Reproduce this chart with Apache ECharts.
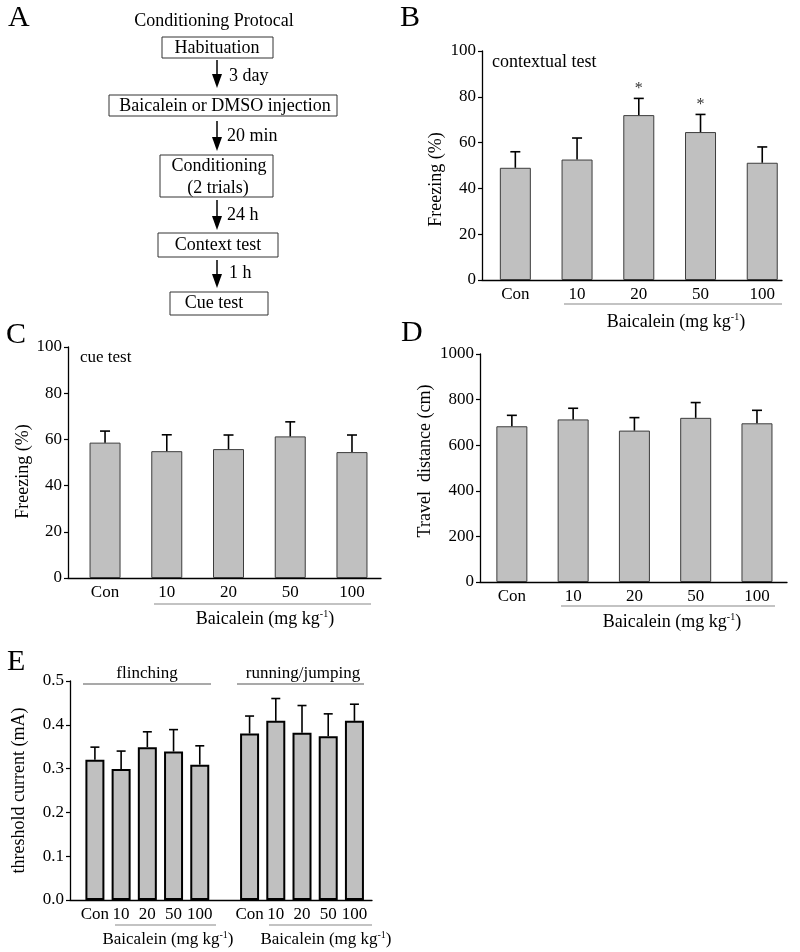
<!DOCTYPE html>
<html>
<head>
    <meta charset="utf-8">
    <title>Baicalein fear conditioning</title>
    <script src="https://cdn.jsdelivr.net/npm/echarts@6/dist/echarts.min.js"></script>
    <style>
        html, body { margin: 0; padding: 0; background: #fff; }
        #main { width: 800px; height: 952px; }
    </style>
</head>
<body>
<div id="main"></div>
<script type="text/javascript">
    // doses
    var doses = ['Con', '10', '20', '50', '100'];

    // B: contextual test, freezing (%)
    var ctxMean = [49.0, 52.6, 72.0, 64.6, 51.2];
    var ctxErr = [7.0, 9.4, 7.3, 7.7, 6.9];
    var ctxSig = ['', '', '*', '*', ''];

    // C: cue test, freezing (%)
    var cueMean = [58.6, 54.9, 55.8, 61.3, 54.5];
    var cueErr = [5.0, 7.1, 6.1, 6.3, 7.4];

    // D: travel distance (cm)
    var distMean = [683, 713, 664, 720, 696];
    var distErr = [48, 49, 57, 67, 57];

    // E: threshold current (mA)
    var flinchMean = [0.320, 0.299, 0.349, 0.339, 0.309];
    var flinchErr = [0.029, 0.041, 0.035, 0.050, 0.043];
    var runMean = [0.380, 0.409, 0.382, 0.374, 0.409];
    var runErr = [0.040, 0.051, 0.062, 0.051, 0.038];

    var FONT = 'Liberation Serif, Times New Roman, serif';
    var GROUP_GAP = 5.9; // E: second group starts here on the x scale

    function pairs(means, shift) {
        return means.map(function (v, i) { return [i + (shift || 0), v]; });
    }
    function errPairs(means, errs, shift) {
        return means.map(function (v, i) { return [i + (shift || 0), v, errs[i]]; });
    }
    function posOf(n, shift) {
        var out = [];
        for (var i = 0; i < n; i++) out.push(i + (shift || 0));
        return out;
    }

    function xAxis(idx, min, max, positions, size) {
        return {
            type: 'value', gridIndex: idx, min: min, max: max,
            splitLine: {show: false},
            axisLine: {show: true, onZero: false, lineStyle: {color: '#000', width: 1.3}},
            axisTick: {show: false},
            axisLabel: {
                customValues: positions,
                margin: 6,
                color: '#000', fontFamily: FONT, fontSize: size || 17,
                formatter: function (v) {
                    var k = Math.round(v > GROUP_GAP - 0.5 && positions.length > 5 ? v - GROUP_GAP : v);
                    return doses[k];
                }
            }
        };
    }
    function yAxis(idx, max, interval, name, gap, pad, fmt) {
        return {
            type: 'value', gridIndex: idx, min: 0, max: max, interval: interval,
            name: name, nameLocation: 'middle', nameGap: gap, nameRotate: 90,
            nameTextStyle: {color: '#000', fontFamily: FONT, fontSize: 18, padding: pad},
            splitLine: {show: false},
            axisLine: {show: true, onZero: false, lineStyle: {color: '#000', width: 1.3}},
            axisTick: {show: true, length: 4, lineStyle: {color: '#000', width: 1.2}},
            axisLabel: {margin: 6, color: '#000', fontFamily: FONT, fontSize: 17, formatter: fmt}
        };
    }

    function barSeries(idx, data, width, heavy) {
        return {
            type: 'bar', xAxisIndex: idx, yAxisIndex: idx, data: data, barWidth: width,
            itemStyle: {
                color: '#c0c0c0',
                borderColor: heavy ? '#000' : '#3c3c3c',
                borderWidth: heavy ? 2 : 1
            },
            silent: true
        };
    }
    function errSeries(idx, data, capHalf, sig) {
        return {
            type: 'custom', xAxisIndex: idx, yAxisIndex: idx, data: data, z: 5, silent: true,
            renderItem: function (params, api) {
                var x = api.value(0), m = api.value(1), e = api.value(2);
                var b = api.coord([x, m]);
                var t = api.coord([x, m + e]);
                var kids = [
                    {type: 'line', shape: {x1: b[0], y1: b[1], x2: t[0], y2: t[1]},
                        style: {stroke: '#000', lineWidth: 1.6}},
                    {type: 'line', shape: {x1: t[0] - capHalf, y1: t[1], x2: t[0] + capHalf, y2: t[1]},
                        style: {stroke: '#000', lineWidth: 1.6}}
                ];
                if (sig && sig[params.dataIndex]) {
                    kids.push({type: 'text', style: {
                        text: sig[params.dataIndex], x: t[0], y: t[1] - 2,
                        textAlign: 'center', textVerticalAlign: 'bottom',
                        font: '16px ' + FONT, fill: '#333'
                    }});
                }
                return {type: 'group', children: kids};
            }
        };
    }

    // --- non-data decoration: flowchart, brackets, labels ---
    function txt(s, x, y, size, align) {
        return {type: 'text', style: {text: s, x: x, y: y, font: size + 'px ' + FONT,
            fill: '#000', textAlign: align || 'center', textVerticalAlign: 'middle'}};
    }
    function box(x, y, w, h) {
        return {type: 'rect', shape: {x: x, y: y, width: w, height: h},
            style: {fill: '#fff', stroke: '#333', lineWidth: 1}};
    }
    function arrow(x, y1, y2) {
        return [
            {type: 'line', shape: {x1: x, y1: y1, x2: x, y2: y2 - 10}, style: {stroke: '#000', lineWidth: 1.5}},
            {type: 'polygon', shape: {points: [[x - 5, y2 - 14], [x + 5, y2 - 14], [x, y2]]}, style: {fill: '#000'}}
        ];
    }
    function hline(x1, x2, y, color) {
        return {type: 'line', shape: {x1: x1, y1: y, x2: x2, y2: y},
            style: {stroke: color || '#888', lineWidth: 1.2}};
    }
    function baicalein(x, y, size) {
        size = size || 18;
        return {type: 'text', style: {
            text: '{a|Baicalein (mg kg}{s|-1}{a|)}', x: x, y: y,
            textAlign: 'center', textVerticalAlign: 'middle',
            rich: {
                a: {fontFamily: FONT, fontSize: size, fill: '#000', lineHeight: 20},
                s: {fontFamily: FONT, fontSize: 10, fill: '#000', verticalAlign: 'top', lineHeight: 20, padding: [0, 0, 7, 0]}
            }
        }};
    }

    var graphics = [
        txt('A', 8, 18, 30, 'left'),
        txt('B', 400, 18, 30, 'left'),
        txt('C', 6, 335, 30, 'left'),
        txt('D', 401, 333, 30, 'left'),
        txt('E', 7, 662, 30, 'left'),

        txt('Conditioning Protocal', 214, 21, 18),
        box(162, 37, 111, 21), txt('Habituation', 217, 48, 18),
        box(109, 95, 228, 21), txt('Baicalein or DMSO injection', 225, 106, 18),
        box(160, 155, 113, 42), txt('Conditioning', 219, 166, 18), txt('(2 trials)', 218, 188, 18),
        box(158, 233, 120, 24), txt('Context test', 218, 245, 18),
        box(170, 292, 98, 23), txt('Cue test', 214, 303, 18),
        txt('3 day', 229, 76, 18, 'left'),
        txt('20 min', 227, 136, 18, 'left'),
        txt('24 h', 227, 215, 18, 'left'),
        txt('1 h', 229, 273, 18, 'left'),

        txt('contextual test', 492, 62, 18, 'left'),
        txt('cue test', 80, 358, 17, 'left'),

        hline(564, 782, 304), baicalein(676, 322),
        hline(154, 371, 604), baicalein(265, 619),
        hline(561, 775, 606), baicalein(672, 622),

        hline(83, 211, 684, '#555'), txt('flinching', 147, 674, 17),
        hline(237, 364, 684, '#555'), txt('running/jumping', 303, 674, 17),
        hline(115, 216, 925), baicalein(168, 940, 17),
        hline(269, 372, 925), baicalein(326, 940, 17)
    ]
        .concat(arrow(217, 60, 88))
        .concat(arrow(217, 121, 151))
        .concat(arrow(217, 200, 230))
        .concat(arrow(217, 260, 288));

    var chart = echarts.init(document.getElementById('main'), null, {renderer: 'canvas'});
    var pct = function (v) { return v; };
    var dec1 = function (v) { return v.toFixed(1); };

    var ePos = posOf(5).concat(posOf(5, GROUP_GAP));

    var option = {
        backgroundColor: '#fff',
        animation: false,
        grid: [
            {left: 482, top: 51, width: 300, height: 229},
            {left: 68, top: 347, width: 313, height: 231},
            {left: 480, top: 354, width: 307, height: 228},
            {left: 70, top: 681, width: 302, height: 219}
        ],
        xAxis: [
            xAxis(0, -0.54, 4.32, posOf(5)),
            xAxis(1, -0.6, 4.47, posOf(5)),
            xAxis(2, -0.52, 4.49, posOf(5)),
            xAxis(3, -0.95, 10.57, ePos, 17)
        ],
        yAxis: [
            yAxis(0, 100, 20, 'Freezing (%)', 37, [0, 28, 0, 0], pct),
            yAxis(1, 100, 20, 'Freezing (%)', 36, [0, 18, 0, 0], pct),
            yAxis(2, 1000, 200, 'Travel  distance (cm)', 46, [0, 0, 0, 14], pct),
            yAxis(3, 0.5, 0.1, 'threshold current (mA)', 42, 0, dec1)
        ],
        series: [
            barSeries(0, pairs(ctxMean), 31),
            errSeries(0, errPairs(ctxMean, ctxErr), 5, ctxSig),
            barSeries(1, pairs(cueMean), 31),
            errSeries(1, errPairs(cueMean, cueErr), 5),
            barSeries(2, pairs(distMean), 31),
            errSeries(2, errPairs(distMean, distErr), 5),
            barSeries(3, pairs(flinchMean).concat(pairs(runMean, GROUP_GAP)), 19, true),
            errSeries(3, errPairs(flinchMean, flinchErr).concat(errPairs(runMean, runErr, GROUP_GAP)), 4.5)
        ],
        graphic: graphics
    };

    chart.setOption(option);
</script>
</body>
</html>
